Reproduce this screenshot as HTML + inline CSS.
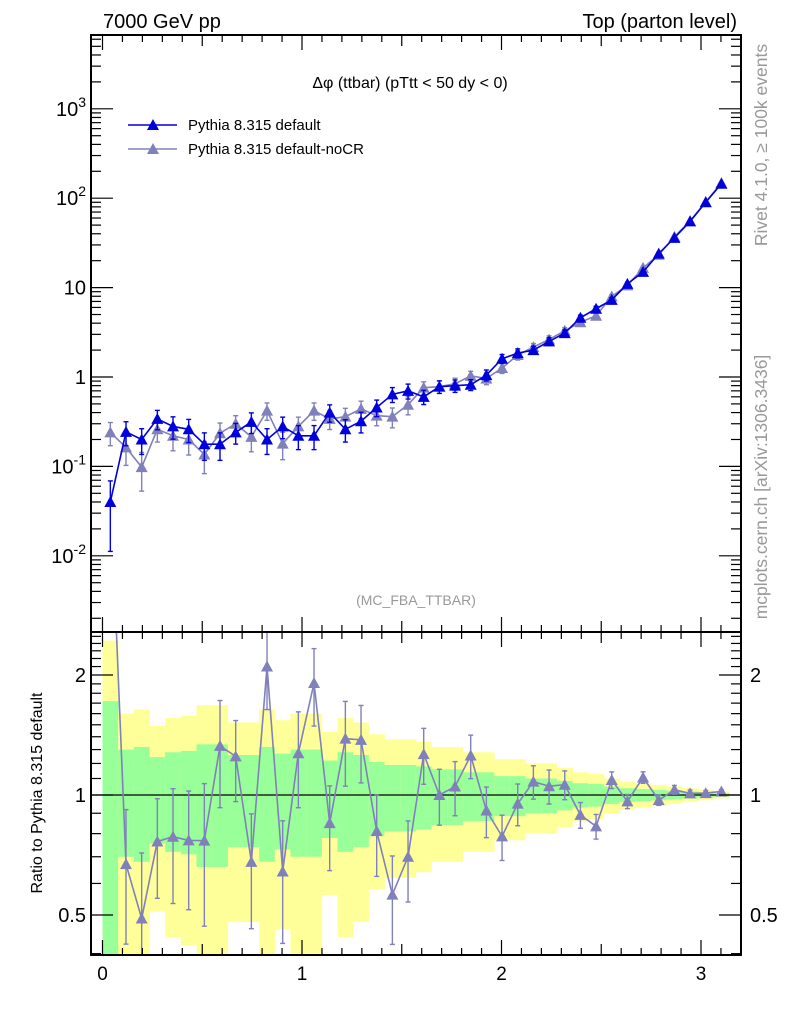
<!DOCTYPE html>
<html><head><meta charset="utf-8"><style>
html,body{margin:0;padding:0;background:#fff;}
svg{display:block;font-family:"Liberation Sans",sans-serif;}
</style></head><body>
<svg id="chart" width="786" height="1024" viewBox="0 0 786 1024" xmlns="http://www.w3.org/2000/svg">
<text x="103" y="28" font-size="20">7000 GeV pp</text>
<text x="737" y="28" font-size="20" text-anchor="end">Top (parton level)</text>
<text x="410" y="88" font-size="16" text-anchor="middle">Δφ (ttbar) (pTtt &lt; 50 dy &lt; 0)</text>
<text x="416" y="605" font-size="14" fill="#999" text-anchor="middle">(MC_FBA_TTBAR)</text>
<text transform="translate(767,145) rotate(-90)" font-size="17.5" fill="#999" text-anchor="middle">Rivet 4.1.0, ≥ 100k events</text>
<text transform="translate(767,487) rotate(-90)" font-size="17.5" fill="#999" text-anchor="middle">mcplots.cern.ch [arXiv:1306.3436]</text>
<text transform="translate(42,793) rotate(-90)" font-size="16" text-anchor="middle">Ratio to Pythia 8.315 default</text>
<g id="bands"></g><g id="marks"></g><g id="axes"></g>
<g>
<g>
<line x1="128" y1="125" x2="177" y2="125" stroke="#0000dd" stroke-width="1.5"/>
<polygon points="147,130 159,130 153,119" fill="#0000dd"/>
<text x="188" y="130" font-size="15">Pythia 8.315 default</text></g>
<g>
<line x1="128" y1="149" x2="177" y2="149" stroke="#8080bb" stroke-width="1.5"/>
<polygon points="147,154 159,154 153,143" fill="#8080bb"/>
<text x="188" y="154" font-size="15">Pythia 8.315 default-noCR</text></g>
</g>
</svg>
<script>
const nBins = 40;
const xMin = 0, xMax = Math.PI;
const defaultVals = [0.040,0.243,0.20,0.34,0.28,0.26,0.177,0.177,0.24,0.315,0.20,0.28,0.22,0.22,0.40,0.26,0.32,0.456,0.64,0.70,0.60,0.78,0.80,0.82,1.05,1.6,1.85,2.0,2.5,3.1,4.6,5.8,7.3,11,15,24,36,55,90,145];
const defaultRelErr = [0.72,0.30,0.32,0.245,0.28,0.29,0.34,0.34,0.26,0.26,0.32,0.27,0.30,0.30,0.22,0.28,0.26,0.21,0.19,0.19,0.18,0.16,0.16,0.14,0.14,0.115,0.115,0.10,0.10,0.085,0.07,0.065,0.05,0.04,0.035,0.03,0.025,0.02,0.015,0.01];
const noCRVals = [0.24,0.163,0.098,0.26,0.22,0.20,0.136,0.235,0.30,0.214,0.42,0.18,0.28,0.42,0.34,0.36,0.44,0.37,0.36,0.49,0.76,0.78,0.84,1.03,0.96,1.26,1.76,2.16,2.63,3.29,4.1,4.84,7.96,10.6,16.6,23.3,37.1,55.5,91,148];
const noCRRelErr = [0.29,0.37,0.46,0.28,0.32,0.33,0.39,0.30,0.23,0.32,0.22,0.34,0.27,0.22,0.24,0.24,0.22,0.23,0.25,0.23,0.16,0.16,0.155,0.125,0.145,0.13,0.12,0.096,0.098,0.083,0.074,0.071,0.048,0.041,0.033,0.03,0.025,0.02,0.015,0.01];
const xTickLabels = ["0","1","2","3"];
const mainTickExps = [-2,-1,0,1,2,3];
const ratioTickVals = [0.5,1,2];

const L=91,R=741,T=35,MB=632,RB=955;
const NS="http://www.w3.org/2000/svg";
const X0=102.5, XU=199.5;
function sx(v){return X0+v*XU;}
function syMain(v){return 377-Math.log10(v)*89.4;}
function syRatio(v){return 795-Math.log2(v)*120;}
function mk(tag,attrs,parent){const e=document.createElementNS(NS,tag);for(const k in attrs)e.setAttribute(k,attrs[k]);parent.appendChild(e);return e;}
const bands=document.getElementById('bands'), marks=document.getElementById('marks'), axes=document.getElementById('axes');
const bw=(xMax-xMin)/nBins;
function clampRatio(y){return Math.max(MB,Math.min(RB,y));}
function clampMain(y){return Math.max(T,Math.min(MB,y));}

for(let i=0;i<nBins;i++){
  const x1=sx(xMin+i*bw), x2=sx(xMin+(i+1)*bw), e=defaultRelErr[i];
  let y1=clampRatio(syRatio(1+2*e)), y2=clampRatio(1-2*e>0?syRatio(1-2*e):RB);
  let r=mk('rect',{x:x1,y:y1,width:x2-x1+0.3,height:y2-y1,fill:'#ffff99'},bands);
  
  
  y1=clampRatio(syRatio(1+e)); y2=clampRatio(syRatio(1-e));
  r=mk('rect',{x:x1,y:y1,width:x2-x1+0.3,height:y2-y1,fill:'#99ff99'},bands);
  
  
}
const one=mk('line',{x1:L,y1:syRatio(1),x2:R,y2:syRatio(1),stroke:'#000','stroke-width':1.3},bands);



function tri(cx,cy,col,parent,name,top,bot){
  if(cy<top-2||cy>bot+2) return;
  const p=mk('polygon',{points:`${cx-6},${cy+5} ${cx+6},${cy+5} ${cx},${cy-6}`,fill:col},parent);
  
  
}
function series(vals,errs,col,syf,clampf,name,top,bot){
  const g=mk('g',{},marks);
  
  
  let pts=[];
  for(let i=0;i<nBins;i++){pts.push(sx(xMin+(i+0.5)*bw)+','+syf(vals[i]));}
  const cp='clip'+name;
  const cl=mk('clipPath',{id:cp},g); mk('rect',{x:L,y:top,width:R-L,height:bot-top},cl);
  const pl=mk('polyline',{points:pts.join(' '),fill:'none',stroke:col,'stroke-width':1.6,'clip-path':`url(#${cp})`},g);
  
  
  for(let i=0;i<nBins;i++){
    const cx=sx(xMin+(i+0.5)*bw), v=vals[i], e=errs[i];
    const ya=clampf(syf(v*(1+e))), yb=clampf(syf(Math.max(v*(1-e),1e-4)));
    if(ya===yb) continue;
    const eb=mk('g',{stroke:col,'stroke-width':1.4},g);
    
    
    mk('line',{x1:cx,y1:ya,x2:cx,y2:yb},eb);
    mk('line',{x1:cx-2.5,y1:ya,x2:cx+2.5,y2:ya},eb);
    mk('line',{x1:cx-2.5,y1:yb,x2:cx+2.5,y2:yb},eb);
  }
  for(let i=0;i<nBins;i++) tri(sx(xMin+(i+0.5)*bw),syf(vals[i]),col,g,name+'-point',top,bot);
}
series(noCRVals,noCRRelErr,'#8080bb',syMain,clampMain,'nocr-main',T,MB);
series(defaultVals,defaultRelErr,'#0000dd',syMain,clampMain,'default-main',T,MB);
const ratioVals=noCRVals.map((v,i)=>v/defaultVals[i]);
series(ratioVals,noCRRelErr,'#8080bb',syRatio,clampRatio,'nocr-ratio',MB,RB);

let f=mk('rect',{x:L,y:T,width:R-L,height:MB-T,fill:'none',stroke:'#000','stroke-width':2},axes);
 
f=mk('rect',{x:L,y:MB,width:R-L,height:RB-MB,fill:'none',stroke:'#000','stroke-width':2},axes);
 
function ln(x1,y1,x2,y2){mk('line',{x1,y1,x2,y2,stroke:'#000','stroke-width':1.2},axes);}
for(let k=0;k<=32;k++){
  const v=k/10, x=sx(v); if(x>R) break;
  const len=(k%10===0)?15:(k%5===0?11:7);
  ln(x,T,x,T+len); ln(x,MB,x,MB-len); ln(x,MB,x,MB+len); ln(x,RB,x,RB-len);
}
xTickLabels.forEach((t,i)=>{
  const tx=mk('text',{x:sx(i),y:980,'font-size':19,'text-anchor':'middle'},axes);
  tx.textContent=t;
  
  
});
for(let d=-3;d<=3;d++){for(let m=1;m<10;m++){
  const y=syMain(m*Math.pow(10,d)); if(y<T||y>MB) continue;
  const len=m===1?22:10; ln(L,y,L+len,y); ln(R,y,R-len,y);
}}
mainTickExps.forEach(e=>{
  const y=syMain(Math.pow(10,e));
  const tx=mk('text',{x:86,y:y+7,'font-size':20,'text-anchor':'end'},axes);
  
  
  if(e===0){tx.textContent='1';}
  else if(e===1){tx.textContent='10';}
  else{tx.textContent='10'; const s=mk('tspan',{dy:-9,'font-size':14},tx); s.textContent=String(e);}
});
for(let v=0.4;v<=2.6;v+=0.1){
  const vv=Math.round(v*10)/10, y=syRatio(vv); if(y<MB||y>RB) continue;
  const major=ratioTickVals.includes(vv); const len=major?22:10;
  ln(L,y,L+len,y); ln(R,y,R-len,y);
}
ratioTickVals.forEach(v=>{
  const y=syRatio(v);
  let tx=mk('text',{x:86,y:y+7,'font-size':20,'text-anchor':'end'},axes); tx.textContent=String(v);
  
  
  tx=mk('text',{x:750,y:y+7,'font-size':20},axes); tx.textContent=String(v);
  
  
});
</script>
</body></html>
